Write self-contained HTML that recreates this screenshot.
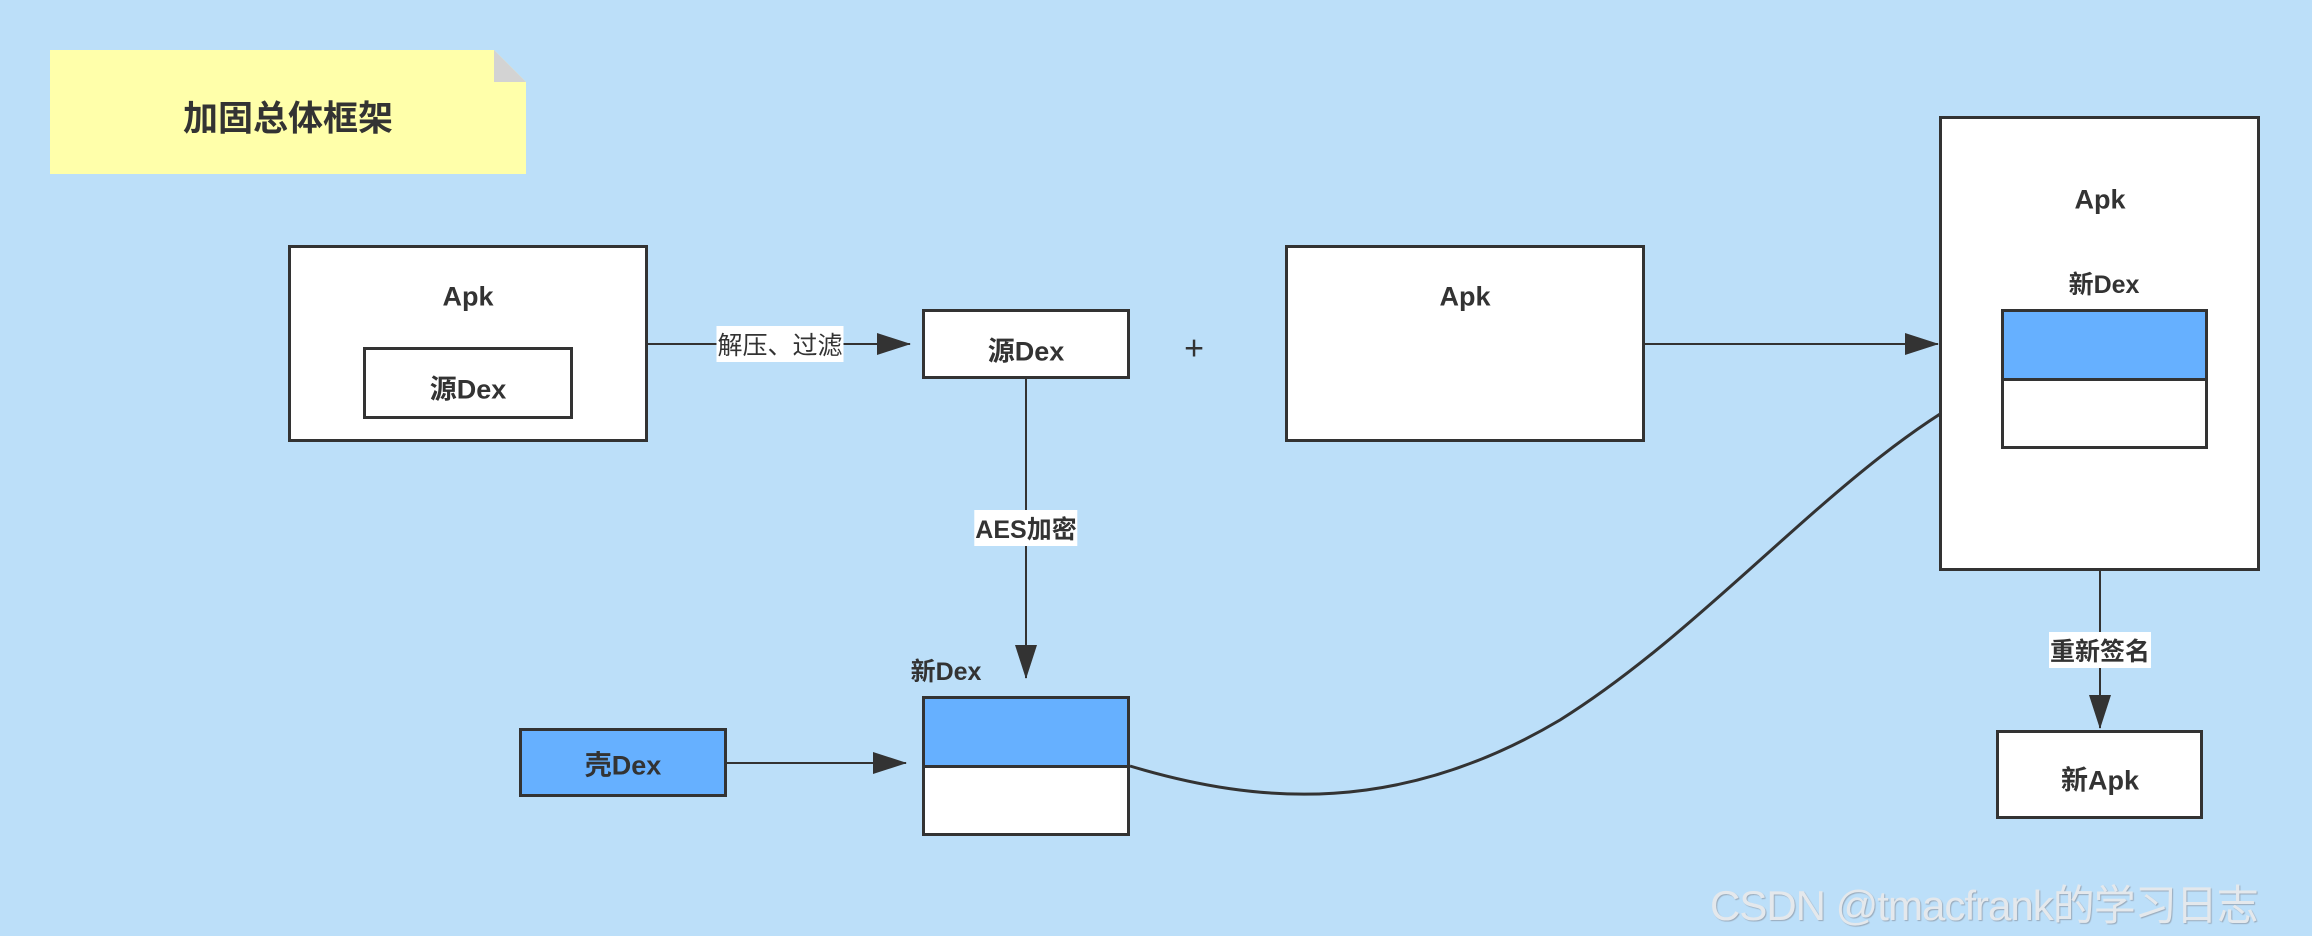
<!DOCTYPE html>
<html><head><meta charset="utf-8"><style>
html,body{margin:0;padding:0;}
body{width:2312px;height:936px;background:#bcdff9;position:relative;overflow:hidden;font-family:"Liberation Sans","Noto Sans CJK SC",sans-serif;color:#333;}
.b{position:absolute;box-sizing:border-box;border:3px solid #333;background:#fff;}
.t{position:absolute;font-weight:bold;font-size:27px;transform:translate(-50%,-50%);white-space:nowrap;}
.l{position:absolute;background:#fff;font-size:25px;transform:translate(-50%,-50%);white-space:nowrap;padding:0 1px;}
</style></head><body>
<svg width="2312" height="936" style="position:absolute;left:0;top:0">
<defs><marker id="a" markerWidth="12" markerHeight="10" refX="11" refY="5" orient="auto" markerUnits="userSpaceOnUse" viewBox="0 0 12 10"><path d="M0,0 L12,5 L0,10 z" fill="#333"/></marker>
<marker id="A" markerWidth="34" markerHeight="22" refX="33" refY="11" orient="auto" markerUnits="userSpaceOnUse"><path d="M0,0 L34,11 L0,22 z" fill="#333"/></marker></defs>
<polygon points="50,50 494,50 526,82 526,174 50,174" fill="#ffffaa"/>
<polygon points="494,50 526,82 494,82" fill="#d3d3d3"/>
<g stroke="#333" stroke-width="2" fill="none">
<line x1="648" y1="344" x2="910" y2="344" marker-end="url(#A)"/>
<line x1="1026" y1="379" x2="1026" y2="678" marker-end="url(#A)"/>
<line x1="727" y1="763" x2="906" y2="763" marker-end="url(#A)"/>
<line x1="1645" y1="344" x2="1938" y2="344" marker-end="url(#A)"/>
<line x1="2100" y1="571" x2="2100" y2="728" marker-end="url(#A)"/>
<path d="M1130,766 C1260,805 1400,815 1560,720 C1720,620 1850,450 2001,380" stroke-width="3" marker-end="url(#A)"/>
</g>
</svg>
<div class="t" style="left:288px;top:116px;font-size:35px">加固总体框架</div>
<div class="b" style="left:288px;top:245px;width:360px;height:197px"></div>
<div class="t" style="left:468px;top:297px">Apk</div>
<div class="b" style="left:363px;top:347px;width:210px;height:72px"></div>
<div class="t" style="left:468px;top:387px">源Dex</div>
<div class="l" style="left:780px;top:344px">解压、过滤</div>
<div class="b" style="left:922px;top:309px;width:208px;height:70px"></div>
<div class="t" style="left:1026px;top:349px">源Dex</div>
<div class="l" style="left:1026px;top:528px;font-weight:bold">AES加密</div>
<div class="t" style="left:946px;top:670px;font-size:25px">新Dex</div>
<div class="b" style="left:922px;top:696px;width:208px;height:140px"></div>
<div style="position:absolute;left:925px;top:699px;width:202px;height:66px;background:#66b0ff;border-bottom:3px solid #333"></div>
<div class="b" style="left:519px;top:728px;width:208px;height:69px;background:#66b0ff"></div>
<div class="t" style="left:623px;top:763px">壳Dex</div>
<div style="position:absolute;left:1194px;top:349px;transform:translate(-50%,-50%);font-size:34px">+</div>
<div class="b" style="left:1285px;top:245px;width:360px;height:197px"></div>
<div class="t" style="left:1465px;top:297px">Apk</div>
<div class="b" style="left:1939px;top:116px;width:321px;height:455px"></div>
<div class="t" style="left:2100px;top:200px">Apk</div>
<div class="t" style="left:2104px;top:283px;font-size:25px">新Dex</div>
<div class="b" style="left:2001px;top:309px;width:207px;height:140px"></div>
<div style="position:absolute;left:2004px;top:312px;width:201px;height:66px;background:#66b0ff;border-bottom:3px solid #333"></div>
<div class="l" style="left:2100px;top:650px;font-weight:bold">重新签名</div>
<div class="b" style="left:1996px;top:730px;width:207px;height:89px"></div>
<div class="t" style="left:2100px;top:778px">新Apk</div>
<div style="position:absolute;left:1710px;top:872px;font-size:42px;color:#e4e8ec;white-space:nowrap;text-shadow:1px 1px 1px #9ab;letter-spacing:-1px">CSDN @tmacfrank的学习日志</div>
</body></html>
